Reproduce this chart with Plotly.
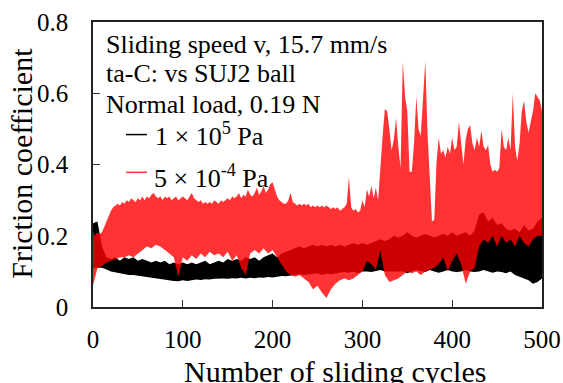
import numpy as np
import plotly.graph_objects as go

# ---- data (friction coefficient envelopes) ----
# 1 x 10^5 Pa (black): lower / upper envelope, every 5 cycles
black_lo = [0.11, 0.11, 0.11, 0.105, 0.10, 0.097, 0.095, 0.092, 0.09, 0.09,
            0.088, 0.086, 0.085, 0.082, 0.08, 0.078, 0.076, 0.075, 0.073, 0.072,
            0.075, 0.073, 0.075, 0.077, 0.076, 0.078, 0.077, 0.079, 0.08, 0.08,
            0.079, 0.081, 0.08, 0.082, 0.08, 0.082, 0.081, 0.083, 0.082, 0.084,
            0.083, 0.085, 0.087, 0.086, 0.088, 0.09, 0.092, 0.09, 0.092, 0.094,
            0.095, 0.09, 0.094, 0.092, 0.095, 0.097, 0.098, 0.096, 0.1, 0.095,
            0.1, 0.1, 0.098, 0.1, 0.104, 0.1, 0.1, 0.098, 0.1, 0.1,
            0.095, 0.1, 0.104, 0.1, 0.098, 0.104, 0.1, 0.096, 0.1, 0.104,
            0.1, 0.098, 0.1, 0.104, 0.1, 0.098, 0.1, 0.104, 0.1, 0.096,
            0.1, 0.098, 0.095, 0.1, 0.09, 0.085, 0.08, 0.075, 0.065, 0.07,
            0.08]
black_hi = [0.235, 0.24, 0.17, 0.14, 0.135, 0.14, 0.13, 0.14, 0.135, 0.14,
            0.13, 0.135, 0.13, 0.125, 0.13, 0.125, 0.13, 0.12, 0.125, 0.12,
            0.125, 0.12, 0.125, 0.12, 0.125, 0.13, 0.12, 0.125, 0.13, 0.125,
            0.135, 0.13, 0.135, 0.13, 0.14, 0.135, 0.14, 0.13, 0.14, 0.145,
            0.15, 0.14, 0.15, 0.155, 0.16, 0.165, 0.17, 0.165, 0.17, 0.175,
            0.17, 0.175, 0.17, 0.175, 0.17, 0.175, 0.17, 0.175, 0.18, 0.175,
            0.18, 0.175, 0.18, 0.185, 0.19, 0.185, 0.19, 0.2, 0.195, 0.2,
            0.21, 0.2, 0.195, 0.2, 0.205, 0.2, 0.195, 0.2, 0.205, 0.2,
            0.21, 0.2, 0.205, 0.21, 0.2, 0.215, 0.26, 0.265, 0.24, 0.25,
            0.23, 0.235, 0.22, 0.215, 0.22, 0.21, 0.23, 0.215, 0.22, 0.24,
            0.25]

# 5 x 10^-4 Pa (red): lower envelope every 5 cycles, upper envelope every 2.5 cycles
red_lo = [0.06, 0.11, 0.115, 0.125, 0.13, 0.135, 0.14, 0.14, 0.145, 0.14,
          0.15, 0.16, 0.17, 0.165, 0.175, 0.17, 0.16, 0.15, 0.14, 0.085,
          0.14, 0.13, 0.145, 0.135, 0.15, 0.14, 0.155, 0.145, 0.15, 0.14,
          0.155, 0.13, 0.145, 0.11, 0.09, 0.15, 0.16, 0.15, 0.165, 0.15,
          0.16, 0.14, 0.12, 0.1, 0.09, 0.085, 0.09, 0.08, 0.07, 0.05,
          0.06, 0.04, 0.025, 0.05, 0.065, 0.075, 0.08, 0.075, 0.08, 0.09,
          0.1, 0.13, 0.12, 0.105, 0.16, 0.09, 0.07, 0.075, 0.08, 0.09,
          0.1, 0.095, 0.1, 0.09, 0.1, 0.105, 0.11, 0.12, 0.14, 0.1,
          0.13, 0.15, 0.12, 0.065, 0.1, 0.11, 0.17, 0.19, 0.18, 0.2,
          0.17, 0.2, 0.18, 0.19, 0.17, 0.2, 0.18, 0.17, 0.19, 0.2,
          0.2]
red_hi = [0.21, 0.20, 0.21, 0.205, 0.21, 0.225, 0.245, 0.26, 0.27, 0.28,
          0.285, 0.29, 0.285, 0.295, 0.29, 0.3, 0.295, 0.305, 0.3, 0.295,
          0.305, 0.3, 0.31, 0.3, 0.31, 0.305, 0.315, 0.32, 0.31, 0.305,
          0.31, 0.3, 0.31, 0.305, 0.31, 0.3, 0.305, 0.31, 0.3, 0.305,
          0.31, 0.305, 0.3, 0.31, 0.32, 0.305, 0.3, 0.295, 0.3, 0.29,
          0.295, 0.29, 0.295, 0.29, 0.3, 0.295, 0.29, 0.3, 0.295, 0.3,
          0.305, 0.3, 0.31, 0.305, 0.31, 0.32, 0.305, 0.315, 0.31, 0.33,
          0.315, 0.31, 0.32, 0.335, 0.315, 0.325, 0.34, 0.32, 0.33, 0.345,
          0.35, 0.33, 0.31, 0.3, 0.295, 0.29, 0.29, 0.3, 0.32, 0.295,
          0.29, 0.285, 0.29, 0.285, 0.29, 0.285, 0.29, 0.28, 0.285, 0.28,
          0.285, 0.28, 0.285, 0.28, 0.285, 0.28, 0.275, 0.28, 0.275, 0.28,
          0.27, 0.275, 0.28, 0.29, 0.365, 0.28, 0.27, 0.275, 0.265, 0.27,
          0.3, 0.28, 0.33, 0.31, 0.34, 0.305, 0.335, 0.3, 0.4, 0.48,
          0.555, 0.55, 0.5, 0.44, 0.47, 0.53, 0.45, 0.39, 0.69, 0.59,
          0.55, 0.38, 0.38, 0.46, 0.59, 0.5, 0.48, 0.6, 0.69, 0.49,
          0.37, 0.24, 0.245, 0.405, 0.475, 0.43, 0.44, 0.42, 0.45, 0.43,
          0.475, 0.44, 0.45, 0.52, 0.46, 0.40, 0.47, 0.50, 0.51, 0.46,
          0.44, 0.475, 0.45, 0.495, 0.45, 0.44, 0.455, 0.40, 0.38, 0.385,
          0.38, 0.39, 0.50, 0.45, 0.44, 0.475, 0.44, 0.60, 0.45, 0.41,
          0.46, 0.55, 0.58, 0.52, 0.49, 0.52, 0.55, 0.60, 0.59, 0.58,
          0.55]

x_ticks = [0, 100, 200, 300, 400, 500]
y_ticks = [0, 0.2, 0.4, 0.6, 0.8]
y_ticktext = ["0", "0.2", "0.4", "0.6", "0.8"]

cyc5 = np.arange(0, 501, 5)
cyc25 = np.arange(0, 500.01, 2.5)
assert len(black_lo) == len(cyc5) and len(black_hi) == len(cyc5)
assert len(red_lo) == len(cyc5) and len(red_hi) == len(cyc25)

FONT = "Liberation Serif, Times New Roman, serif"

fig = go.Figure()

fig.add_trace(go.Scatter(
    x=list(cyc5) + list(cyc5[::-1]),
    y=black_hi + black_lo[::-1],
    fill="toself", fillcolor="rgb(0,0,0)", mode="lines",
    line=dict(width=0), hoverinfo="skip", showlegend=False))

fig.add_trace(go.Scatter(
    x=list(cyc25) + list(cyc5[::-1]),
    y=red_hi + red_lo[::-1],
    fill="toself", fillcolor="rgba(255,0,0,0.8)", mode="lines",
    line=dict(width=0), hoverinfo="skip", showlegend=False))

axis_common = dict(showline=True, mirror=True, linecolor="#222", linewidth=1.5,
                   ticks="inside", ticklen=7, tickwidth=1.2, tickcolor="#333",
                   showgrid=False, zeroline=False, automargin=False,
                   tickfont=dict(family=FONT, size=25, color="black"))

fig.update_xaxes(range=[0, 500], tickvals=x_ticks, ticklabelstandoff=9, **axis_common)
fig.update_yaxes(range=[0, 0.8], tickvals=y_ticks, ticktext=y_ticktext,
                 ticklabelstandoff=18, **axis_common)

annots = [
    dict(text="Sliding speed v, 15.7 mm/s", x=12.5, y=0.737),
    dict(text="ta-C: vs SUJ2 ball", x=12.5, y=0.655),
    dict(text="Normal load, 0.19 N", x=12.5, y=0.569),
    dict(text="1 × 10<sup>5</sup> Pa", x=66.5, y=0.484),
    dict(text="5 × 10<sup>-4</sup> Pa", x=65.5, y=0.367),
]
for a in annots:
    fig.add_annotation(xref="x", yref="y", xanchor="left", yanchor="middle",
                       showarrow=False, font=dict(family=FONT, size=26, color="black"),
                       **a)

fig.add_shape(type="line", xref="x", yref="y", x0=36.7, x1=60.1, y0=0.484, y1=0.484,
              line=dict(color="black", width=1.5))
fig.add_shape(type="line", xref="x", yref="y", x0=36.7, x1=60.1, y0=0.378, y1=0.378,
              line=dict(color="rgb(255,51,51)", width=1.5))

fig.add_annotation(xref="paper", yref="paper", x=-0.158, y=0.503, text="Friction coefficient",
                   textangle=-90, showarrow=False, xanchor="center", yanchor="middle",
                   font=dict(family=FONT, size=30, color="black"))
fig.add_annotation(xref="paper", yref="paper", x=0.5396, y=-0.225, text="Number of sliding cycles",
                   showarrow=False, xanchor="center", yanchor="middle",
                   font=dict(family=FONT, size=30, color="black"))

fig.update_layout(width=563, height=383,
                  margin=dict(l=92.7, r=21.3, t=22.3, b=75.7, autoexpand=False),
                  paper_bgcolor="white", plot_bgcolor="white", showlegend=False)

fig.write_html("out.html", config={"displayModeBar": False},
               post_script="document.body.style.margin='0';document.body.style.overflow='hidden';")
